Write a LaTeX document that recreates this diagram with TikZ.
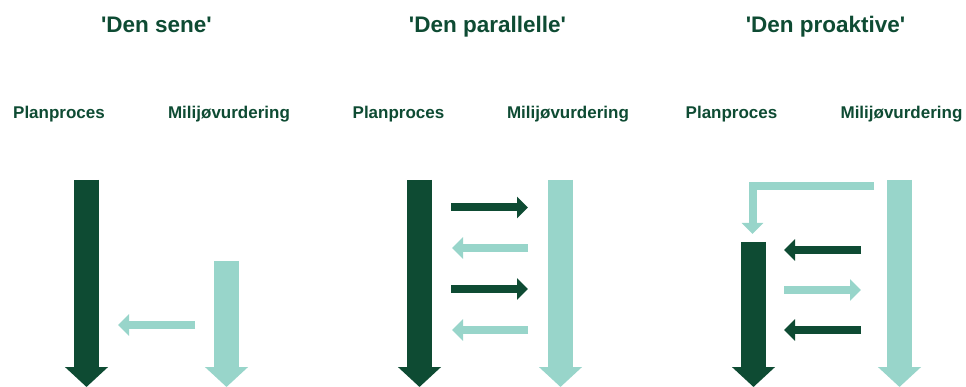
\documentclass[tikz,border=0pt]{standalone}
\usepackage{fontspec}
\setmainfont{Liberation Sans}
\usetikzlibrary{arrows.meta}
\definecolor{plangreen}{HTML}{0E4B33}
\definecolor{miljogreen}{HTML}{98D5CA}
\begin{document}
\begin{tikzpicture}[x=1pt, y=-1pt,
	titel/.style={text=plangreen, font=\fontsize{22.5}{24}\selectfont\bfseries, anchor=base, inner sep=0pt},
	etiket/.style={text=plangreen, font=\fontsize{17}{19}\selectfont\bfseries, anchor=base, inner sep=0pt},
	bred/.style={line width=25pt, line cap=butt, -{Triangle[length=20pt, width=42pt]}},
	smal/.style={line width=8pt, line cap=butt, line join=miter, -{Triangle[length=11pt, width=21pt]}}]

	\useasboundingbox (0,0) rectangle (966,387);

	\node[titel] (sene) at (156.5, 32.7) {\textquotesingle Den sene\textquotesingle};
	\node[titel] (parallelle) at (487.5, 32.7) {\textquotesingle Den parallelle\textquotesingle};
	\node[titel] (proaktive) at (825.5, 32.7) {\textquotesingle Den proaktive\textquotesingle};

	\node[etiket] (planA) at (59, 119) {Planproces};
	\node[etiket] (miljoA) at (229, 119) {Milijøvurdering};
	\node[etiket] (planB) at (398.5, 119) {Planproces};
	\node[etiket] (miljoB) at (568, 119) {Milijøvurdering};
	\node[etiket] (planC) at (731.5, 119) {Planproces};
	\node[etiket] (miljoC) at (901.5, 119) {Milijøvurdering};

	% den sene
	\coordinate (pA1) at (86.5, 180);  \coordinate (pA2) at (86.5, 387);
	\coordinate (mA1) at (226.5, 261); \coordinate (mA2) at (226.5, 387);
	\coordinate (hA1) at (195, 325);   \coordinate (hA2) at (118, 325);
	\draw[bred, plangreen] (pA1) -- (pA2);
	\draw[bred, miljogreen] (mA1) -- (mA2);
	\draw[smal, miljogreen] (hA1) -- (hA2);

	% den parallelle
	\coordinate (pB1) at (419.5, 180); \coordinate (pB2) at (419.5, 387);
	\coordinate (mB1) at (560.5, 180); \coordinate (mB2) at (560.5, 387);
	\coordinate (hB1) at (451, 207.5); \coordinate (hB2) at (528, 207.5);
	\coordinate (hB3) at (528, 248);   \coordinate (hB4) at (452, 248);
	\coordinate (hB5) at (451, 289);   \coordinate (hB6) at (528, 289);
	\coordinate (hB7) at (528, 330);   \coordinate (hB8) at (452, 330);
	\draw[bred, plangreen] (pB1) -- (pB2);
	\draw[bred, miljogreen] (mB1) -- (mB2);
	\draw[smal, plangreen] (hB1) -- (hB2);
	\draw[smal, miljogreen] (hB3) -- (hB4);
	\draw[smal, plangreen] (hB5) -- (hB6);
	\draw[smal, miljogreen] (hB7) -- (hB8);

	% den proaktive
	\coordinate (pC1) at (753.5, 242); \coordinate (pC2) at (753.5, 387);
	\coordinate (mC1) at (899.5, 180); \coordinate (mC2) at (899.5, 387);
	\coordinate (kC1) at (874, 186.5); \coordinate (kC2) at (752.5, 234);
	\coordinate (hC1) at (861, 250);   \coordinate (hC2) at (784, 250);
	\coordinate (hC3) at (784, 290);   \coordinate (hC4) at (861, 290);
	\coordinate (hC5) at (861, 330);   \coordinate (hC6) at (784, 330);
	\draw[bred, plangreen] (pC1) -- (pC2);
	\draw[bred, miljogreen] (mC1) -- (mC2);
	\draw[smal, miljogreen] (kC1) -| (kC2);
	\draw[smal, plangreen] (hC1) -- (hC2);
	\draw[smal, miljogreen] (hC3) -- (hC4);
	\draw[smal, plangreen] (hC5) -- (hC6);

\end{tikzpicture}
\end{document}
